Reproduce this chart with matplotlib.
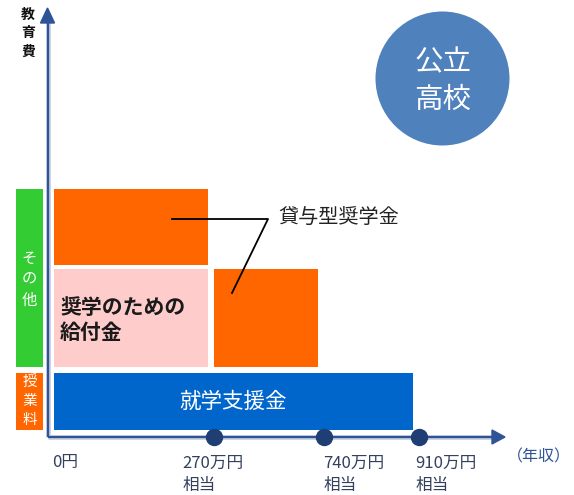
import matplotlib
matplotlib.use('Agg')
import matplotlib.pyplot as plt
from matplotlib.patches import Rectangle, Circle, Polygon

plt.rcParams['font.family'] = ['Noto Sans CJK JP', 'DejaVu Sans']

# income axis: thresholds along the schematic axis
income_labels = ['0円', '270万円\n相当', '740万円\n相当', '910万円\n相当']
income_pos = [0, 166, 276, 371]
label_x = [5, 135, 276, 368]

# expense bands on the vertical axis (bottom, top)
band_tuition = (7, 64)
band_other_low = (70, 168)
band_other_high = (172, 248)

# boxes: (label, start index, end index, band, colour)
boxes = [
    ('就学支援金', 0, 3, band_tuition, '#0066cc'),
    ('奨学のための\n給付金', 0, 1, band_other_low, '#ffcccc'),
    ('', 0, 1, band_other_high, '#ff6600'),
    ('', 1, 2, band_other_low, '#ff6600'),
]

axis_col = '#2f5496'
text_col = '#33405e'

fig = plt.figure(figsize=(5.74, 4.95), dpi=100)
ax = fig.add_axes([0, 0, 1, 1])
ax.set_xlim(-47.5, 526.5)
ax.set_ylim(-58, 437)
ax.axis('off')

# side category bars
ax.add_patch(Rectangle((-31.5, band_other_low[0]), 27, band_other_high[1] - band_other_low[0],
                       color='#33cc33', lw=0))
ax.add_patch(Rectangle((-31.5, band_tuition[0]), 27, band_tuition[1] - band_tuition[0],
                       color='#ff6600', lw=0))
for i, ch in enumerate('その他'):
    ax.text(-18, 179 - i * 21, ch, color='white', fontsize=11, ha='center', va='center')
for i, ch in enumerate('授業料'):
    ax.text(-18, 55 - i * 19, ch, color='white', fontsize=10.5, ha='center', va='center')
for i, ch in enumerate('教育費'):
    ax.text(-19.5, 422 - i * 18.5, ch, color='#111111', fontsize=10, fontweight='bold',
            ha='center', va='center')

# main boxes
for label, a, b, (y0, y1), col in boxes:
    x0 = income_pos[a] + (6.5 if a == 0 else 0)
    x1 = income_pos[b] - 6
    ax.add_patch(Rectangle((x0, y0), x1 - x0, y1 - y0, color=col, lw=0))

ax.text(185.5, 35, boxes[0][0], color='white', fontsize=15.5, ha='center', va='center')
lines = boxes[1][0].split('\n')
ax.text(12.5, 130, lines[0], color='#1a1a1a', fontsize=15, fontweight='bold', va='center')
ax.text(12.5, 105, lines[1], color='#1a1a1a', fontsize=15, fontweight='bold', va='center')

# callout for loans
ax.plot([124.5, 220.5, 184.5], [218, 218, 144], color='black', lw=1.3)
ax.text(230.5, 220, '貸与型奨学金', color='#222222', fontsize=14.5, va='center')

# axes with shadow
for lw, col in [(4.5, '#bcc7dd'), (2.2, axis_col)]:
    ax.plot([0, 0], [0, 416], color=col, lw=lw * 0.72, solid_capstyle='butt', zorder=3)
    ax.plot([0, 446], [0, 0], color=col, lw=lw * 0.72, solid_capstyle='butt', zorder=3)
ax.add_patch(Polygon([(-7, 414), (7, 414), (0, 429)], color=axis_col, zorder=4))
ax.add_patch(Polygon([(444.5, 7), (444.5, -7), (457.5, 0)], color=axis_col, zorder=4))

ax.plot(income_pos[1:], [0] * 3, 'o', color='#1f3f74', markersize=11.5, zorder=5)

for lbl, x in zip(income_labels, label_x):
    for j, part in enumerate(lbl.split('\n')):
        ax.text(x, -26 - j * 22, part, color=text_col, fontsize=12, va='center')
ax.text(523, -20, '（年収）', color=axis_col, fontsize=11.5, ha='right', va='center')

# school type badge
ax.add_patch(Circle((395, 358.5), 67, color='#4f81bd', lw=0))
ax.text(395.5, 375, '公立', color='white', fontsize=20.5, ha='center', va='center')
ax.text(395.5, 337, '高校', color='white', fontsize=20.5, ha='center', va='center')

fig.savefig('out.png', dpi=100)
